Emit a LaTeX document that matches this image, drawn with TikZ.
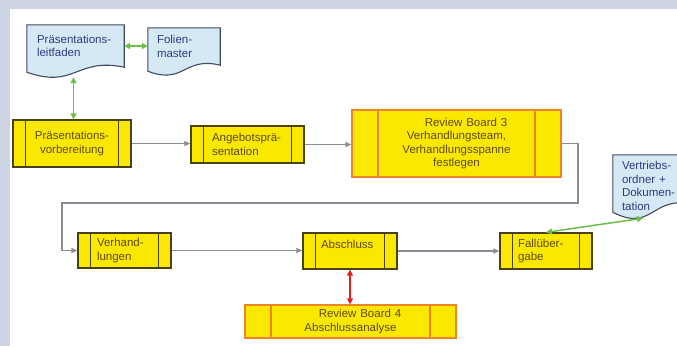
\documentclass[tikz,border=0pt]{standalone}
\usepackage{fontspec}
\setmainfont{Liberation Sans}
\usetikzlibrary{calc,arrows.meta}
\definecolor{bgc}{RGB}{205,213,228}
\definecolor{procfill}{RGB}{250,232,0}
\definecolor{procline}{RGB}{75,65,25}
\definecolor{proctext}{RGB}{95,75,20}
\definecolor{rbline}{RGB}{240,130,40}
\definecolor{docfill}{RGB}{214,232,243}
\definecolor{docline}{RGB}{65,75,95}
\definecolor{doctext}{RGB}{45,60,130}
\definecolor{grn}{RGB}{110,190,70}
\definecolor{redarr}{RGB}{230,30,30}
\definecolor{flowc}{RGB}{140,140,150}
\newcommand\boxfont{\fontsize{11.5}{13.5}\selectfont}
\newcommand\docshape[5]{%
  \draw[docst] (#1.north west) -- (#1.north east) -- ($(#1.south east)+(0,#2)$)
    .. controls ($(#1.south)+(0,#4)$) and ($(#1.south)+(0,#5)$) .. ($(#1.south west)+(0,#3)$) -- cycle;}
\pgfdeclarelayer{bglayer}
\pgfdeclarelayer{shapelayer}
\pgfsetlayers{bglayer,shapelayer,main}
\tikzset{
  barbox/.style 2 args={draw=#2, line width=1.3pt, fill=procfill, font=\boxfont, text=proctext, inner ysep=1pt,
    path picture={\draw[#2, line width=1.3pt]
      ([xshift=#1]path picture bounding box.north west) -- ([xshift=#1]path picture bounding box.south west)
      ([xshift=-#1]path picture bounding box.north east) -- ([xshift=-#1]path picture bounding box.south east);}},
  proc/.style={barbox={12.5pt}{procline}},
  rb/.style={barbox={26pt}{rbline}},
  docn/.style={font=\boxfont, text=doctext, align=left, inner ysep=0pt, inner xsep=#1},
  docst/.style={draw=docline, line width=1.1pt, fill=docfill},
  flow/.style={draw=flowc, line width=1.2pt, -{Triangle[length=6pt,width=5pt]}},
  grnarr/.style={draw=grn, line width=1.5pt, {Triangle[length=6pt,width=6pt]}-{Triangle[length=6pt,width=6pt]}},
  redar/.style={draw=redarr, line width=1.5pt, {Triangle[length=6pt,width=6pt]}-{Triangle[length=6pt,width=6pt]}},
}
\begin{document}
\begin{tikzpicture}[x=1pt,y=-1pt]
\useasboundingbox (0,0) rectangle (677,346);
\begin{pgfonlayer}{bglayer}
  \fill[bgc] (0,0) rectangle (677,346);
  \fill[white] (10,9) rectangle (677,346);
\end{pgfonlayer}

% documents
\node[docn=10pt, text width=77pt, minimum height=42pt] (PL) at (75.5,46) {Präsentations-\\leitfaden};
\node[docn=9pt, text width=54pt, minimum height=37pt] (FM) at (184,46.5) {Folien-\\master};
\node[docn=9pt, text width=62pt, minimum height=62pt] (VO) at (653,186) {Vertriebs-\\ordner +\\Dokumen-\\tation};
\begin{pgfonlayer}{shapelayer}
  \docshape{PL}{0}{5}{-10}{22}
  \docshape{FM}{0}{6}{-9}{20}
  \docshape{VO}{-12}{-5}{-24}{16}
\end{pgfonlayer}
\coordinate (PLw) at ($(PL.south)+(-2,10)$);
\coordinate (VOw) at ($(VO.south)+(-10,1)$);

% process boxes
\node[proc, align=center, text width=90pt, inner xsep=14pt, minimum height=47pt] (PV) at (72,143.5) {Präsentations-\\vorbereitung};
\node[proc, align=left, text width=71pt, inner xsep=21pt, minimum height=37pt] (AP) at (247.5,144.5) {Angebotsprä-\\sentation};
\node[rb, align=center, text width=157pt, inner xsep=26pt, minimum height=67pt] (RB3) at (456.5,143.5) {\hspace*{19pt}Review Board 3\\Verhandlungsteam,\\Verhandlungsspanne\\festlegen};
\node[proc, align=left, text width=55pt, inner xsep=19pt, minimum height=35pt] (VH) at (124.5,250.5) {Verhand-\\lungen};
\node[proc, align=left, text width=58pt, inner xsep=18pt, minimum height=36pt] (AB) at (350,251) {Abschluss\\\mbox{}};
\node[proc, align=left, text width=56pt, inner xsep=18pt, minimum height=36pt] (FU) at (546,251) {Fallüber-\\gabe};
\node[rb, align=center, text width=159pt, inner xsep=26pt, minimum height=33pt] (RB4) at (350.5,321.5) {\hspace*{19pt}Review Board 4\\Abschlussanalyse};

% connectors
\draw[grnarr] (PL.east) -- (PL.east -| FM.west);
\draw[grnarr] (PLw) -- (PLw |- PV.north);
\draw[grnarr] (VOw) -- (FU.north);
\draw[redar] (AB.south) -- (AB.south |- RB4.north);

\coordinate (r1) at (578,203);
\coordinate (r2) at (62,203);
\draw[flow] (PV.east) -- (PV.east -| AP.west);
\draw[flow] (AP.east) -- (AP.east -| RB3.west);
\draw[flow] (RB3.east) -| (r1) -- (r2) |- (VH.west);
\draw[flow] (VH.east) -- (VH.east -| AB.west);
\draw[flow] (AB.east) -- (AB.east -| FU.west);
\end{tikzpicture}
\end{document}
